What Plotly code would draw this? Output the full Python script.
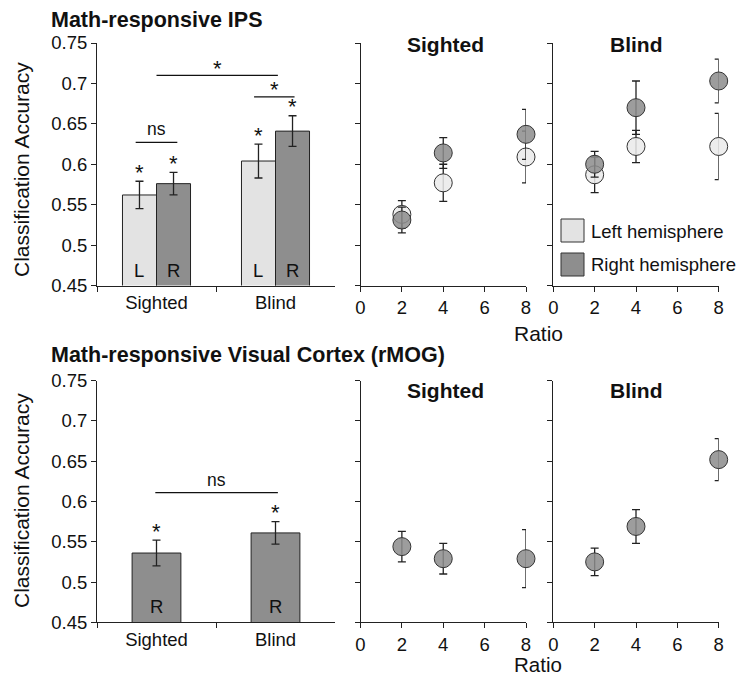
import plotly.graph_objects as go

# ---------------- data ----------------
groups = ["Sighted", "Blind"]
ips_left = [0.562, 0.604]
ips_left_err = [0.017, 0.021]
ips_right = [0.576, 0.641]
ips_right_err = [0.014, 0.019]
mog_right = [0.536, 0.561]
mog_right_err = [0.016, 0.014]

ratios = [2, 4, 8]
ips_sighted_left = [0.538, 0.577, 0.609]
ips_sighted_left_err = [0.017, 0.023, 0.032]
ips_sighted_right = [0.531, 0.614, 0.637]
ips_sighted_right_err = [0.016, 0.019, 0.031]
ips_blind_left = [0.587, 0.622, 0.622]
ips_blind_left_err = [0.022, 0.020, 0.041]
ips_blind_right = [0.600, 0.670, 0.703]
ips_blind_right_err = [0.016, 0.033, 0.027]

mog_sighted = [0.544, 0.529, 0.529]
mog_sighted_err = [0.019, 0.019, 0.036]
mog_blind = [0.525, 0.569, 0.652]
mog_blind_err = [0.017, 0.021, 0.026]

y_ticks = [0.45, 0.5, 0.55, 0.6, 0.65, 0.7, 0.75]
y_tick_text = ["0.45", "0.5", "0.55", "0.6", "0.65", "0.7", "0.75"]
x_ticks = [0, 2, 4, 6, 8]

# ---------------- style ----------------
FONT = "Liberation Sans, Arial, Helvetica, sans-serif"
LIGHT = "#e3e3e3"
DARK = "#8e8e8e"
LIGHT_M = "rgba(234,234,234,0.85)"
DARK_M = "rgba(140,140,140,0.85)"
EDGE = "#222222"
AX = "#222222"
W, H = 739, 677

def px_x(p):
    return p / W

def px_y(p):
    return 1 - p / H

fig = go.Figure()

BW2 = 0.286
BW1 = 0.41

def err(a):
    return dict(type="data", array=a, visible=True, color=EDGE, thickness=1.3, width=4)

# top bar panel
fig.add_trace(go.Bar(x=groups, y=ips_left, error_y=err(ips_left_err), width=BW2, offset=-BW2,
                     marker=dict(color=LIGHT, line=dict(color=EDGE, width=1)),
                     xaxis="x", yaxis="y", showlegend=False))
fig.add_trace(go.Bar(x=groups, y=ips_right, error_y=err(ips_right_err), width=BW2, offset=0,
                     marker=dict(color=DARK, line=dict(color=EDGE, width=1)),
                     xaxis="x", yaxis="y", showlegend=False))
# bottom bar panel
fig.add_trace(go.Bar(x=groups, y=mog_right, error_y=err(mog_right_err), width=BW1, offset=-BW1 / 2,
                     marker=dict(color=DARK, line=dict(color=EDGE, width=1)),
                     xaxis="x4", yaxis="y4", showlegend=False))

def scat(x, y, e, fill, xa, ya):
    return go.Scatter(x=x, y=y, mode="markers", error_y=err(e), cliponaxis=False,
                      marker=dict(size=18, color=fill, line=dict(color="#333333", width=1)),
                      xaxis=xa, yaxis=ya, showlegend=False)

fig.add_trace(scat(ratios, ips_sighted_left, ips_sighted_left_err, LIGHT_M, "x2", "y2"))
fig.add_trace(scat(ratios, ips_sighted_right, ips_sighted_right_err, DARK_M, "x2", "y2"))
fig.add_trace(scat(ratios, ips_blind_left, ips_blind_left_err, LIGHT_M, "x3", "y3"))
fig.add_trace(scat(ratios, ips_blind_right, ips_blind_right_err, DARK_M, "x3", "y3"))
fig.add_trace(scat(ratios, mog_sighted, mog_sighted_err, DARK_M, "x5", "y5"))
fig.add_trace(scat(ratios, mog_blind, mog_blind_err, DARK_M, "x6", "y6"))

# ---------------- axes ----------------
top_dom = [px_y(285.5), px_y(43)]
bot_dom = [px_y(622.3), px_y(380.7)]
bar_dom = [px_x(97), px_x(335)]
mid_dom = [px_x(360.5), px_x(526)]
rgt_dom = [px_x(553.3), px_x(718.7)]

tickfont = dict(family=FONT, size=18.5, color="#111")

def yax(dom, labels, anchor):
    return dict(domain=dom, range=[0.45, 0.75], tickvals=y_ticks, ticktext=y_tick_text,
                showticklabels=labels, ticks="outside", ticklen=5, tickcolor=AX, tickwidth=1,
                showline=True, linecolor=AX, linewidth=1, showgrid=False, zeroline=False,
                tickfont=tickfont, anchor=anchor, fixedrange=True, automargin=False)

def xbar(dom, anchor):
    return dict(domain=dom, type="category", range=[-0.5, 1.5], tickson="boundaries",
                ticks="outside", ticklen=5, tickcolor=AX, tickwidth=1, showline=True,
                linecolor=AX, linewidth=1, showgrid=False, tickfont=tickfont, anchor=anchor,
                automargin=False)

def xsc(dom, anchor):
    return dict(domain=dom, range=[0, 8], tickvals=x_ticks, ticks="outside", ticklen=5,
                tickcolor=AX, tickwidth=1, showline=True, linecolor=AX, linewidth=1,
                showgrid=False, zeroline=False, tickfont=tickfont, anchor=anchor,
                automargin=False)

fig.update_layout(
    xaxis=xbar(bar_dom, "y"), yaxis=yax(top_dom, True, "x"),
    xaxis2=xsc(mid_dom, "y2"), yaxis2=yax(top_dom, False, "x2"),
    xaxis3=xsc(rgt_dom, "y3"), yaxis3=yax(top_dom, False, "x3"),
    xaxis4=xbar(bar_dom, "y4"), yaxis4=yax(bot_dom, True, "x4"),
    xaxis5=xsc(mid_dom, "y5"), yaxis5=yax(bot_dom, False, "x5"),
    xaxis6=xsc(rgt_dom, "y6"), yaxis6=yax(bot_dom, False, "x6"),
)

# ---------------- annotations ----------------
ann = []
shapes = []

def txt(text, x, y, size, bold=False, xref="paper", yref="paper", xanchor="center",
        yanchor="middle", angle=0, yshift=0, xshift=0):
    ann.append(dict(text=("<b>%s</b>" % text) if bold else text, x=x, y=y, xref=xref, yref=yref,
                    xanchor=xanchor, yanchor=yanchor, showarrow=False, textangle=angle,
                    yshift=yshift, xshift=xshift, borderpad=0,
                    font=dict(family=FONT, size=size, color="#111")))

txt("Math-responsive IPS", px_x(50), px_y(20), 21.5, bold=True, xanchor="left")
txt("Math-responsive Visual Cortex (rMOG)", px_x(50), px_y(355), 21.5, bold=True, xanchor="left")
txt("Sighted", px_x(445.5), px_y(45), 21, bold=True)
txt("Blind", px_x(636), px_y(45), 21, bold=True)
txt("Sighted", px_x(445.5), px_y(390), 21, bold=True)
txt("Blind", px_x(636), px_y(390), 21, bold=True)
txt("Ratio", px_x(538), px_y(333), 21)
txt("Ratio", px_x(538), 0, 20.5, yanchor="bottom")
txt("Classification Accuracy", px_x(21), px_y(170), 21, angle=-90)
txt("Classification Accuracy", px_x(21), px_y(501), 21, angle=-90)

# bar letters
for i in range(len(groups)):
    txt("L", i - BW2 / 2, 0.45, 18.5, xref="x", yref="y", yanchor="bottom", yshift=4)
    txt("R", i + BW2 / 2, 0.45, 18.5, xref="x", yref="y", yanchor="bottom", yshift=4)
    txt("R", i, 0.45, 18.5, xref="x4", yref="y4", yanchor="bottom", yshift=4)

# significance stars over bars
for i in range(len(groups)):
    txt("*", i - BW2 / 2, ips_left[i] + ips_left_err[i], 22, xref="x", yref="y", yshift=9)
    txt("*", i + BW2 / 2, ips_right[i] + ips_right_err[i], 22, xref="x", yref="y", yshift=9)
    txt("*", i, mog_right[i] + mog_right_err[i], 22, xref="x4", yref="y4", yshift=9)

def line(x0, x1, y, xr, yr):
    shapes.append(dict(type="line", x0=x0, x1=x1, y0=y, y1=y, xref=xr, yref=yr,
                       line=dict(color="#111", width=1.2)))

line(-0.175, 0.175, 0.627, "x", "y")
txt("ns", 0, 0.627, 17.5, xref="x", yref="y", yanchor="bottom", yshift=2)
line(0.82, 1.16, 0.6834, "x", "y")
txt("*", 0.99, 0.6834, 22, xref="x", yref="y", yshift=7)
line(0.0, 1.02, 0.710, "x", "y")
txt("*", 0.51, 0.710, 22, xref="x", yref="y", yshift=7)
line(-0.01, 1.02, 0.611, "x4", "y4")
txt("ns", 0.5, 0.611, 17.5, xref="x4", yref="y4", yanchor="bottom", yshift=2)

# legend (drawn)
shapes.append(dict(type="rect", xref="paper", yref="paper", x0=px_x(561), x1=px_x(584),
                   y0=px_y(242), y1=px_y(219), fillcolor=LIGHT, line=dict(color="#333", width=1)))
shapes.append(dict(type="rect", xref="paper", yref="paper", x0=px_x(561), x1=px_x(584),
                   y0=px_y(276), y1=px_y(253), fillcolor=DARK, line=dict(color="#333", width=1)))
txt("Left hemisphere", px_x(590), px_y(231), 18.5, xanchor="left")
txt("Right hemisphere", px_x(590), px_y(264), 18.5, xanchor="left")

fig.update_layout(
    annotations=ann, shapes=shapes, barmode="overlay",
    width=W, height=H, margin=dict(l=0, r=0, t=0, b=0, autoexpand=False),
    paper_bgcolor="white", plot_bgcolor="white",
    font=dict(family=FONT, size=18, color="#111"),
)

fig.write_html("out.html", config={"displayModeBar": False},
               post_script="document.body.style.margin='0px';document.body.style.overflow='hidden';")
